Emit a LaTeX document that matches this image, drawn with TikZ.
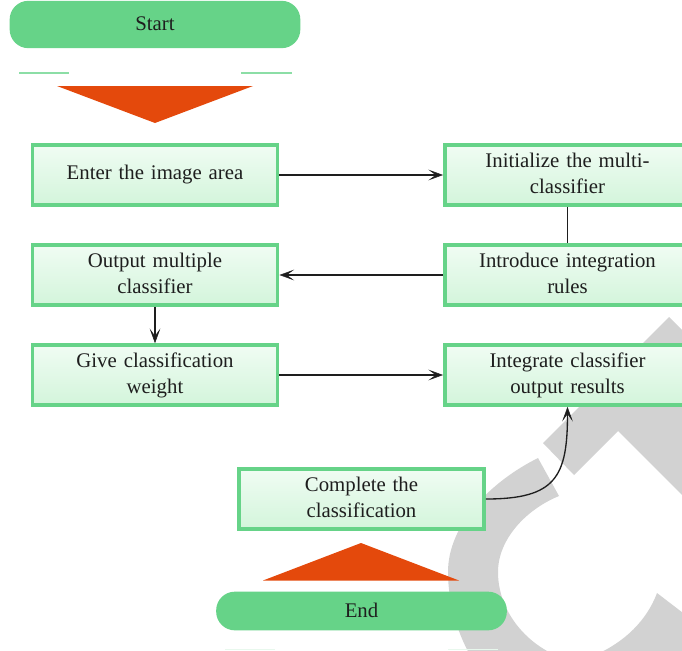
\documentclass[tikz,border=0pt]{standalone}
\usepackage{fontspec}
\setmainfont[WordSpace=0.6]{Liberation Serif}
\usetikzlibrary{arrows.meta}
\definecolor{boxgreen}{HTML}{66D388}
\definecolor{boxtop}{HTML}{F0FCF3}
\definecolor{boxbot}{HTML}{D3F5DB}
\definecolor{tri}{HTML}{E4490C}
\definecolor{wm}{HTML}{D2D2D2}
\definecolor{ink}{HTML}{1E1E1E}
\tikzset{
  procbox/.style={draw=boxgreen,line width=2.7pt,top color=boxtop,bottom color=boxbot,
    minimum width=184pt,minimum height=45pt,inner sep=0pt,align=center,text width=180pt,
    font=\fontsize{15.6}{19.5}\selectfont,text=ink},
  twolines/.style={execute at end node={\vphantom{g}\par\vspace{-1pt}}},
  terminal/.style={fill=boxgreen,rounded corners=14pt,minimum width=218pt,inner sep=0pt,
    font=\fontsize{15.6}{19.5}\selectfont,text=ink},
  flow/.style={draw=ink,line width=1pt,-{Stealth[length=11pt,width=8pt,inset=5.5pt,line width=0.4pt]}},
  plainline/.style={draw=ink,line width=1.1pt},
  marker/.style={fill=tri},
  rule/.style={draw=boxgreen!75,line width=0.8pt},
}
\begin{document}
\begin{tikzpicture}[x=0.75pt,y=-0.75pt]
\useasboundingbox (0,0) rectangle (682,650);
\clip (0,0) rectangle (682,650);
% watermark
\fill[wm] (669,317) -- (700,348) -- (700,513) -- (618,431) -- (574,475) -- (543,443) -- cycle;
\fill[wm] (538,458) .. controls (490,482) and (448,525) .. (448,572)
  .. controls (448,600) and (456,630) .. (470,655) -- (555,655)
  .. controls (522,640) and (498,608) .. (498,572)
  .. controls (498,540) and (525,510) .. (559,496) -- cycle;
\fill[wm] (657,593) -- (700,626) -- (700,655) -- (595,655) .. controls (625,642) and (647,620) .. (657,593) -- cycle;
% terminals
\node[terminal,minimum height=35.5pt] (start) at (155,24.5) {\raisebox{0.8pt}{Start}};
\node[terminal,minimum height=29pt] (end) at (361.5,611) {\raisebox{1.4pt}{End}};
% rules
\coordinate (r1a) at (19,73); \coordinate (r1b) at (69,73);
\coordinate (r2a) at (241,73); \coordinate (r2b) at (292,73);
\draw[rule] (r1a) -- (r1b);
\draw[rule] (r2a) -- (r2b);
\coordinate (r3a) at (225,649.5); \coordinate (r3b) at (275,649.5);
\coordinate (r4a) at (448,649.5); \coordinate (r4b) at (498,649.5);
\draw[boxgreen!15,line width=0.8pt] (r3a) -- (r3b);
\draw[boxgreen!15,line width=0.8pt] (r4a) -- (r4b);
% triangles
\fill[marker] (57,86) -- (253,86) -- (155,123) -- cycle;
\fill[marker] (361,543) -- (459,580.5) -- (263,580.5) -- cycle;
% boxes
\node[procbox] (enter) at (155,175) {\raisebox{-0.6pt}{Enter the image area}};
\node[procbox,twolines] (init) at (567.5,175) {Initialize the multi-\\classifier};
\node[procbox,twolines] (output) at (155,275) {Output multiple\\classifier};
\node[procbox,twolines] (intro) at (567.5,275) {Introduce integration\\rules};
\node[procbox,twolines] (give) at (155,375) {Give classification\\weight};
\node[procbox,twolines] (integ) at (567.5,375) {Integrate classifier\\output results};
\node[procbox,twolines] (done) at (361.5,499) {Complete the\\classification};
% connectors
\draw[flow] (enter.east) -- (init.west);
\draw[plainline] (init.south) -- (intro.north);
\draw[flow] (intro.west) -- (output.east);
\draw[flow,line width=1.3pt] (output.south) -- (give.north);
\draw[flow] (give.east) -- (integ.west);
\draw[flow] (done.east) .. controls +(70,0) and +(0,70) .. (integ.south);
\end{tikzpicture}
\end{document}
